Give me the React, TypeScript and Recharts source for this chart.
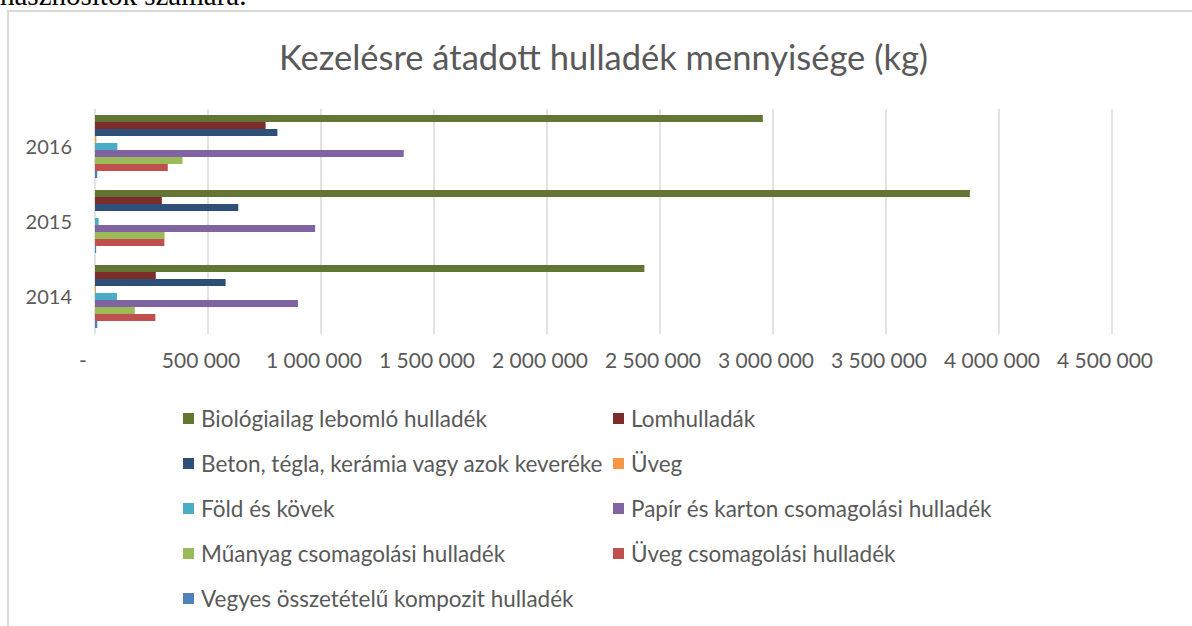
import React from 'react';
import { BarChart, Bar, XAxis, YAxis, CartesianGrid } from 'recharts';

const categories = ['2016', '2015', '2014'];
const seriesNames = [
  'Biológiailag lebomló hulladék',
  'Lomhulladák',
  'Beton, tégla, kerámia vagy azok keveréke',
  'Üveg',
  'Föld és kövek',
  'Papír és karton csomagolási hulladék',
  'Műanyag csomagolási hulladék',
  'Üveg csomagolási hulladék',
  'Vegyes összetételű kompozit hulladék',
];
const seriesColors = ['#637532', '#7b2c2b', '#2e4f78', '#f79646', '#4bacc6', '#8064a2', '#9bbb59', '#c0504d', '#4f81bd'];

// values per category, order [2016, 2015, 2014]
const bio = [2955000, 3871000, 2431000];
const lom = [755000, 296000, 269000];
const beton = [807000, 634000, 578000];
const uveg = [6000, 0, 4000];
const fold = [99000, 16000, 97000];
const papir = [1366000, 974000, 898000];
const muanyag = [387000, 308000, 176000];
const uvegCsom = [322000, 307000, 267000];
const vegyes = [10000, 5000, 10000];
const seriesValues = [bio, lom, beton, uveg, fold, papir, muanyag, uvegCsom, vegyes];

const xTicks = [0, 500000, 1000000, 1500000, 2000000, 2500000, 3000000, 3500000, 4000000, 4500000];

const data = categories.map((c, i) => {
  const row: Record<string, string | number> = { year: c };
  seriesNames.forEach((n, s) => {
    row['s' + s] = seriesValues[s][i];
  });
  return row;
});

const FONT = 'Lato, "Open Sans", sans-serif';
const TXT = '#595959';

const fmt = (v: number) => (v === 0 ? '-' : v.toLocaleString('en-US').replace(/,/g, ' '));

const XTick = (props: any) => {
  const { x, y, payload } = props;
  const v = payload.value as number;
  return (
    <text x={x} y={y} dx={v === 0 ? -12 : -7} dy="0.71em" textAnchor="middle" fill={TXT} fontSize={21} fontFamily={FONT}>
      {fmt(v)}
    </text>
  );
};

export default function App() {
  return (
    <div style={{ position: 'absolute', left: 0, top: 0, width: 1192, height: 626, overflow: 'hidden', background: '#fff' }}>
      <div style={{ position: 'absolute', left: 0, top: -19, fontFamily: '"Liberation Serif", serif', fontSize: 29, lineHeight: '29px', color: '#000', whiteSpace: 'nowrap' }}>
        hasznosítók számára.
      </div>
      <div style={{ position: 'absolute', left: 7, top: 10, width: 1210, height: 640, border: '2px solid #d9d9d9', boxSizing: 'border-box' }} />
      <div style={{ position: 'absolute', left: 0, top: 37, width: 1207, textAlign: 'center', fontFamily: FONT, fontSize: 34.5, color: TXT, lineHeight: '40px', whiteSpace: 'nowrap' }}>
        Kezelésre átadott hulladék mennyisége (kg)
      </div>
      <div style={{ position: 'absolute', left: 0, top: 0 }}>
        <BarChart
          width={1192}
          height={626}
          data={data}
          layout="vertical"
          margin={{ top: 109, right: 80, bottom: 262, left: 0 }}
          barCategoryGap={6}
          barGap={0}
        >
          <CartesianGrid horizontal={false} stroke="#d9d9d9" strokeWidth={1.5} />
          <XAxis
            type="number"
            domain={[0, 4500000]}
            ticks={xTicks}
            interval={0}
            tickLine={false}
            axisLine={false}
            tickSize={0}
            tickMargin={19}
            height={30}
            tick={<XTick />}
          />
          <YAxis
            type="category"
            dataKey="year"
            width={95}
            tickLine={false}
            axisLine={false}
            tickSize={0}
            tickMargin={23}
            tick={{ fill: TXT, fontSize: 20, fontFamily: FONT }}
          />
          {seriesNames.map((n, s) => (
            <Bar key={n} dataKey={'s' + s} name={n} fill={seriesColors[s]} isAnimationActive={false} />
          ))}
        </BarChart>
      </div>
      {seriesNames.map((n, s) => {
        const col = s % 2;
        const row = Math.floor(s / 2);
        return (
          <div
            key={n}
            style={{
              position: 'absolute',
              left: col === 0 ? 183 : 613,
              top: 418 + row * 45 - 15,
              height: 30,
              display: 'flex',
              alignItems: 'center',
              fontFamily: FONT,
              fontSize: 22.5,
              color: TXT,
              whiteSpace: 'nowrap',
            }}
          >
            <span style={{ display: 'inline-block', width: 11, height: 11, background: seriesColors[s], marginRight: 7 }} />
            {n}
          </div>
        );
      })}
    </div>
  );
}
